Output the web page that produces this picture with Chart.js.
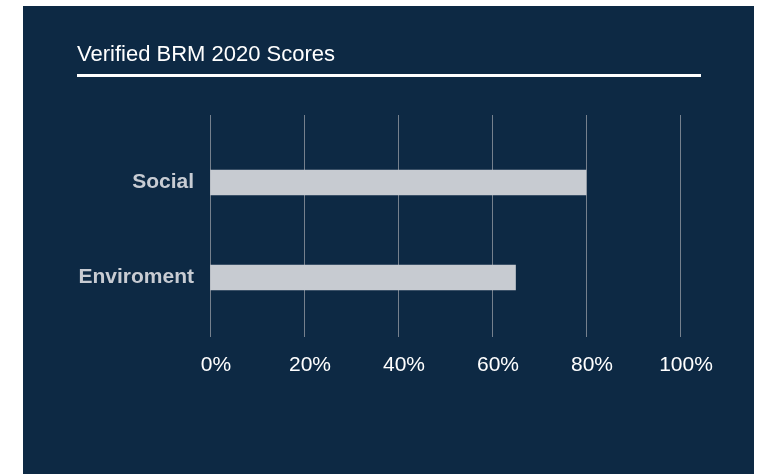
<!DOCTYPE html>
<html>
<head>
<meta charset="utf-8">
<script src="https://cdn.jsdelivr.net/npm/chart.js@4/dist/chart.umd.min.js"></script>
<style>
  html, body { margin: 0; padding: 0; background: #ffffff; }
  body { width: 759px; height: 474px; position: relative; overflow: hidden; font-family: "Liberation Sans", Arial, sans-serif; }
  #panel { position: absolute; left: 23px; top: 6px; width: 731px; height: 468px; background: #0d2944; }
  #title { position: absolute; left: 54px; top: 36px; width: 624px; color: #ffffff; font-size: 22px; line-height: 24px; padding-bottom: 8px; border-bottom: 3px solid #ffffff; }
  #c { position: absolute; left: 0; top: 0; }
</style>
</head>
<body>
<div id="panel">
  <canvas id="c" width="731" height="468"></canvas>
  <div id="title">Verified BRM 2020 Scores</div>
</div>
<script>
const categories = ['Social', 'Enviroment'];
const scores = [80, 65];
const xTickValues = [0, 20, 40, 60, 80, 100];
const chartTitle = 'Verified BRM 2020 Scores';

document.getElementById('title').textContent = chartTitle;

const ctx = document.getElementById('c').getContext('2d');
new Chart(ctx, {
  type: 'bar',
  data: {
    datasets: [{
      data: categories.map((c, i) => ({ x: scores[i], y: i })),
      backgroundColor: '#c7cbd1',
      borderWidth: 0,
      barThickness: 25
    }]
  },
  options: {
    indexAxis: 'y',
    responsive: false,
    animation: false,
    devicePixelRatio: 1,
    layout: { padding: { left: 0, top: 109, right: 74, bottom: 0 } },
    plugins: { legend: { display: false }, tooltip: { enabled: false }, title: { display: false } },
    scales: {
      x: {
        type: 'linear',
        position: 'bottom',
        min: 0,
        max: 100,
        afterBuildTicks: (s) => { s.ticks = xTickValues.map(v => ({ value: v })); },
        afterFit: (s) => { s.height = 137; },
        grid: { color: '#75808d', lineWidth: 1, drawTicks: false },
        border: { display: false },
        ticks: {
          color: '#ffffff',
          padding: 16,
          labelOffset: 6,
          font: { family: '"Liberation Sans", Arial, sans-serif', size: 21 },
          callback: (v) => v + '%'
        }
      },
      y: {
        type: 'linear',
        reverse: true,
        offset: false,
        min: -0.7105,
        max: 1.626,
        afterBuildTicks: (s) => { s.ticks = categories.map((c, i) => ({ value: i })); },
        afterFit: (s) => { s.width = 187; },
        grid: { display: false, drawTicks: false, offset: false },
        border: { display: false },
        ticks: {
          color: '#c8ccd3',
          padding: 16,
          font: { family: '"Liberation Sans", Arial, sans-serif', size: 21, weight: 'bold' },
          callback: (v) => categories[v]
        }
      }
    }
  }
});
</script>
</body>
</html>
